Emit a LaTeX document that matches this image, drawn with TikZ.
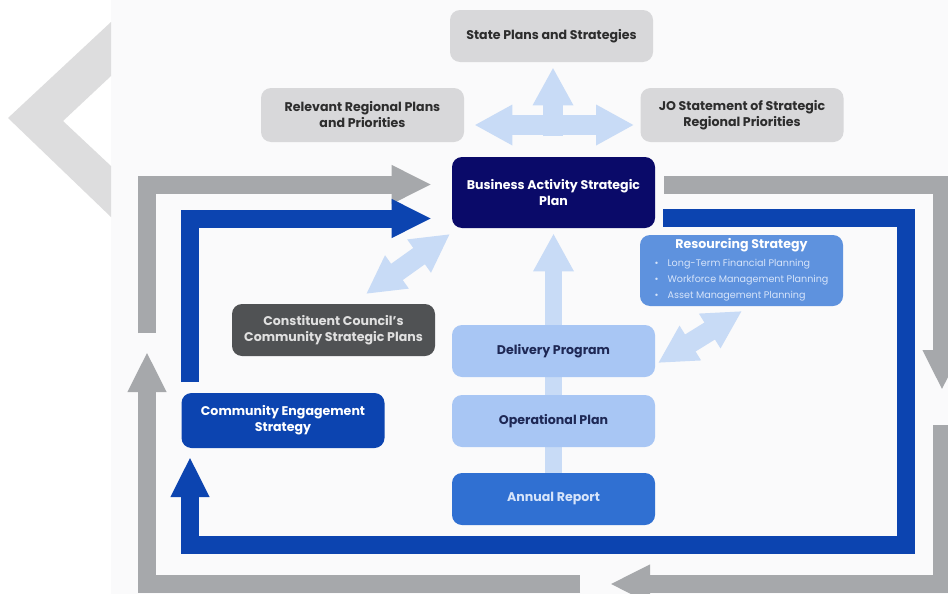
\documentclass[tikz,border=0pt]{standalone}
\usepackage{fontspec}
\setmainfont{Poppins}
\usetikzlibrary{arrows.meta,backgrounds}

\definecolor{offwhite}{RGB}{250,250,251}
\definecolor{chevgray}{RGB}{221,221,222}
\definecolor{boxgray}{RGB}{216,216,218}
\definecolor{loopgray}{RGB}{166,168,171}
\definecolor{loopblue}{RGB}{12,68,176}
\definecolor{navy}{RGB}{10,10,105}
\definecolor{resblue}{RGB}{94,146,222}
\definecolor{reslight}{RGB}{214,228,250}
\definecolor{darkslate}{RGB}{80,82,84}
\definecolor{paleblue}{RGB}{168,198,244}
\definecolor{annblue}{RGB}{48,112,210}
\definecolor{arrowpale}{RGB}{200,219,246}
\definecolor{inkdark}{RGB}{45,45,45}
\definecolor{inknavy}{RGB}{30,40,85}

\newcommand{\planitem}[1]{{\fontsize{4.8}{5.5}\selectfont\mdseries\color{reslight}\textbullet\hspace{4.5pt}#1}}

\tikzset{
  bighead/.tip={Triangle[length=20pt,width=18pt]},
  palehead/.tip={Triangle[length=19pt,width=19pt]},
  plan/.style={rounded corners=5pt, minimum width=101.5pt, minimum height=26pt,
    inner sep=0pt, align=center, font=\fontsize{6.3}{8}\selectfont\bfseries},
  grayplan/.style={plan, fill=boxgray, text=inkdark},
  paleplan/.style={plan, fill=paleblue, text=inknavy},
  cyclegray/.style={draw=loopgray, line width=9pt, line join=miter, -bighead},
  cycleblue/.style={draw=loopblue, line width=9pt, line join=miter, -bighead},
  paleflow/.style={draw=arrowpale, line width=10pt},
}

\begin{document}
\begin{tikzpicture}[x=0.5pt,y=-0.5pt]
\begin{pgfonlayer}{background}
\fill[white] (0,0) rectangle (948,594);
\fill[offwhite] (111,0) rectangle (948,594);
% chevron behind the panel
\fill[chevgray] (111,22) -- (8,118) -- (111,217) -- (111,166) -- (63,121) -- (111,76) -- cycle;
\end{pgfonlayer}
\clip (0,0) rectangle (948,594);

% plans
\node[grayplan] (state) at (551.5,36) {State Plans and Strategies};
\node[grayplan, minimum height=27pt] (regional) at (362.5,115) {Relevant Regional Plans\\and Priorities};
\node[grayplan, minimum height=27pt] (jo) at (742,115) {JO Statement of Strategic\\Regional Priorities};
\node[plan, fill=navy, text=white, minimum height=35.5pt] (basp) at (553.5,192.5) {Business Activity Strategic\\Plan};
\node[plan, fill=darkslate, text=white!88!black] (council) at (333.5,330) {Constituent Council's\\Community Strategic Plans};
\node[paleplan] (delivery) at (553.5,351) {Delivery Program};
\node[paleplan] (operational) at (553.5,421) {Operational Plan};
\node[plan, fill=annblue, text=reslight] (annual) at (553.5,499) {Annual Report};
\node[plan, fill=loopblue, text=white, minimum height=27.5pt] (engagement) at (283,420.5) {Community Engagement\\Strategy};
\node[plan, fill=resblue, text=white, minimum height=35.5pt] (resourcing) at (741.5,270.5) {%
  \begin{tabular}{@{}l@{}}
  \multicolumn{1}{@{}c@{}}{Resourcing Strategy}\\[1pt]
  \planitem{Long-Term Financial Planning}\\
  \planitem{Workforce Management Planning}\\
  \planitem{Asset Management Planning}
  \end{tabular}};

% light arrows
\begin{pgfonlayer}{background}
\draw[paleflow, line width=8.5pt, -palehead, shorten >=2.5pt] (annual.north) -- (basp.south);
\end{pgfonlayer}
\draw[paleflow, palehead-palehead, shorten <=5pt, shorten >=3pt]
  ([yshift=-5pt]regional.east) -- ([yshift=-5pt]jo.west);
\coordinate (hub) at (553,136);
\draw[paleflow, -palehead, shorten >=2.5pt] (hub) -- (hub |- state.south);
\coordinate (councilup) at (366,294);
\coordinate (baspcorner) at (450,234);
\draw[paleflow, palehead-palehead] (councilup) -- (baspcorner);
\coordinate (deliveryside) at (658,363);
\coordinate (resourcingfoot) at (742,311);
\draw[paleflow, palehead-palehead] (deliveryside) -- (resourcingfoot);

% outer (gray) cycle
\draw[cyclegray, shorten >=10pt] (147,333) |- ([yshift=4pt]basp.west);
\draw[cyclegray] ([yshift=4pt,xshift=4.5pt]basp.east) -| (942,390);
\draw[cyclegray] (942,425) |- (610,584);
\draw[cyclegray] (580,584) -| (147,352);

% inner (blue) cycle
\draw[cycleblue, shorten >=10pt] (190,382) |- ([yshift=-13pt]basp.west);
\draw[cycleblue] ([yshift=-12.5pt,xshift=4pt]basp.east) -| (906,545) -| (190,457);
\end{tikzpicture}
\end{document}
